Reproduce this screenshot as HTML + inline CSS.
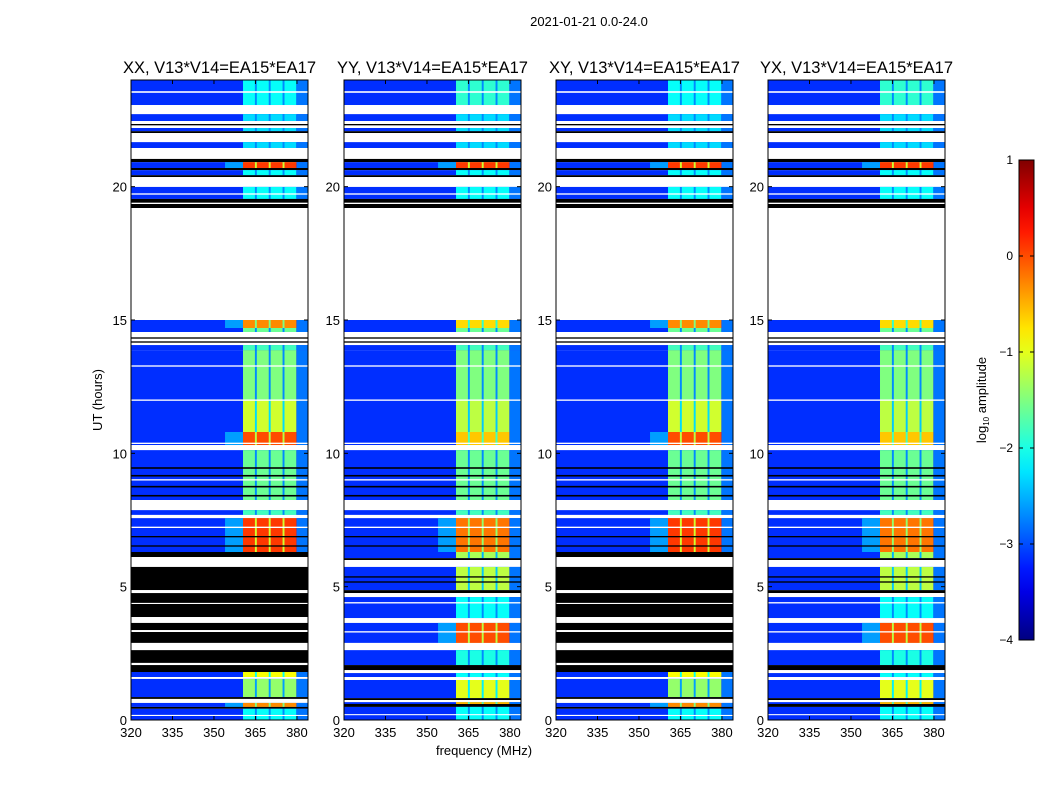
<!DOCTYPE html>
<html><head><meta charset="utf-8"><style>
body{margin:0;background:#fff}
svg text{font-family:"Liberation Sans","DejaVu Sans",sans-serif;fill:#000}
</style></head><body>
<svg id="fig" width="1050" height="800" xmlns="http://www.w3.org/2000/svg">
<rect width="1050" height="800" fill="#fff"/>
<text x="589" y="26" font-size="13" text-anchor="middle">2021-01-21 0.0-24.0</text>
<text transform="translate(102,400) rotate(-90)" font-size="13" text-anchor="middle">UT (hours)</text>
<text x="484" y="755" font-size="13" text-anchor="middle">frequency (MHz)</text>
<defs><linearGradient id="jetg" x1="0" y1="1" x2="0" y2="0"></linearGradient></defs>
</svg>
<script>
// ---- data ----
const panelNames = ["XX, V13*V14=EA15*EA17","YY, V13*V14=EA15*EA17","XY, V13*V14=EA15*EA17","YX, V13*V14=EA15*EA17"];
const panelGroup = ["A","B","A","B"];
const xTicks = [320,335,350,365,380];
const yTicks = [0,5,10,15,20];
const cbTicks = [1,0,-1,-2,-3,-4];
const bgLevel = -3.15;
const rfiCols = [[360.5,364.8],[365.5,369.8],[370.5,374.8],[375.5,379.8]];
// [h0,h1,kind,levelA,levelB]
const upperSegs = [
[23.06,24,'d',-2.1,-1.9],[22.72,23.06,'w'],[22.46,22.72,'d',-2.3,-2.3],[22.2,22.46,'w'],
[22.08,22.2,'d',-2.3,-2.3],[22.01,22.08,'k'],[21.67,22.01,'w'],[21.45,21.67,'d',-2.3,-2.3],
[21.04,21.45,'w'],[20.92,21.04,'k'],[20.7,20.92,'d',0.1,0.1],[20.62,20.7,'k'],
[20.43,20.62,'d',-2.1,-2.1],[20.36,20.43,'k'],[19.99,20.36,'w'],[19.54,19.99,'d',-2.1,-2.1],
[19.2,19.54,'k'],[15.0,19.2,'w'],[14.7,15.0,'d',-0.3,-0.7],[14.55,14.7,'d',-1.6,-1.6],
[14.06,14.55,'w'],[13.87,14.06,'d',-1.8,-1.8],[12.0,13.87,'d',-1.5,-1.5],[10.8,12.0,'d',-1.1,-1.2],
[10.31,10.8,'d',0.0,-0.6],[10.12,10.31,'w'],[8.25,10.12,'d',-1.6,-1.6],[7.87,8.25,'w'],
[7.69,7.87,'d',-1.8,-1.8],[7.57,7.69,'w'],[6.3,7.57,'d',0.1,-0.2],
[23.52,23.58,'w'],[22.3,22.35,'k'],[19.7,19.75,'w'],[19.35,19.4,'w'],[14.3,14.35,'k'],[14.15,14.2,'k'],
[13.25,13.3,'w'],[11.97,12.02,'w'],[10.35,10.4,'w'],[9.42,9.48,'k'],[9.13,9.19,'k'],[8.98,9.03,'w'],
[8.72,8.78,'k'],[8.38,8.44,'k'],[7.2,7.25,'w'],[6.85,6.9,'k'],[6.5,6.55,'k']
];
const lowerA = [
[6.11,6.3,'k'],[5.74,6.11,'w'],[4.87,5.74,'k'],[4.76,4.87,'w'],[4.39,4.76,'k'],[4.35,4.39,'w'],
[3.86,4.35,'k'],[3.64,3.86,'w'],[3.37,3.64,'k'],[3.3,3.37,'w'],[2.89,3.3,'k'],[2.62,2.89,'w'],
[2.14,2.62,'k'],[2.06,2.14,'w'],[1.8,2.06,'k'],[1.61,1.8,'d',-0.9],[1.54,1.61,'w'],
[0.86,1.54,'d',-1.4],[0.79,0.86,'k'],[0.64,0.79,'w'],[0.49,0.64,'d',-0.3],[0.42,0.49,'k'],
[0.19,0.42,'d',-2.1],[0.15,0.19,'w'],[0,0.15,'d',-2.1]
];
const lowerB = [
[6.07,6.3,'d',-1.3],[6.0,6.07,'k'],[5.74,6.0,'w'],[4.87,5.74,'d',-1.2],[5.34,5.39,'k'],[5.15,5.2,'k'],
[4.76,4.87,'k'],[4.61,4.76,'w'],[3.82,4.61,'d',-2.1],[4.37,4.42,'w'],[3.64,3.82,'w'],
[2.89,3.64,'d',0.0],[3.28,3.33,'w'],[2.62,2.89,'w'],[2.06,2.62,'d',-2.0],[1.87,2.06,'k'],
[1.76,1.87,'w'],[1.61,1.76,'d',-2.1],[1.5,1.61,'w'],[0.82,1.5,'d',-1.0],[0.75,0.82,'k'],
[0.67,0.75,'w'],[0.6,0.67,'d',-0.5],[0.49,0.6,'k'],[0,0.49,'d',-2.1],[0.18,0.22,'w']
];
// ---- rendering ----
const NS="http://www.w3.org/2000/svg";
const svg=document.getElementById('fig');
const panelX=[131,344,556,768], PW=177, PT=80, PB=720;
const fMin=320, fMax=384, hMin=0, hMax=24;
function jet(v){
  const t=Math.max(0,Math.min(1,(v+4)/5));
  const cl=x=>Math.max(0,Math.min(1,x));
  const r=cl(Math.min(4*t-1.5,-4*t+4.5)), g=cl(Math.min(4*t-0.5,-4*t+3.5)), b=cl(Math.min(4*t+0.5,-4*t+2.5));
  return `rgb(${Math.round(r*255)},${Math.round(g*255)},${Math.round(b*255)})`;
}
function mk(tag,attrs,parent){const e=document.createElementNS(NS,tag);for(const k in attrs)e.setAttribute(k,attrs[k]);(parent||svg).appendChild(e);return e;}
function yScale(h){return PB-(h-hMin)/(hMax-hMin)*(PB-PT);}
panelX.forEach((x0,pi)=>{
  const xs=f=>x0+(f-fMin)/(fMax-fMin)*PW;
  const g=mk('g',{});
  
  
  const grp=panelGroup[pi];
  const segs=upperSegs.map(s=>[s[0],s[1],s[2],grp==='A'?s[3]:s[4]]).concat(grp==='A'?lowerA:lowerB);
  segs.forEach(s=>{
    const y1=yScale(s[1]), y0=yScale(s[0]), hgt=y0-y1;
    if(s[2]!=='d'){
      const r=mk('rect',{x:x0,y:y1,width:PW,height:hgt,fill:s[2]==='k'?'#000':'#fff'},g);
      
      
      return;
    }
    const lv=s[3];
    const r=mk('rect',{x:x0,y:y1,width:PW,height:hgt,fill:jet(bgLevel)},g);
    
    
    if(lv>-0.4) mk('rect',{x:xs(354),y:y1,width:xs(360.5)-xs(354),height:hgt,fill:jet(-2.6)},g);
    mk('rect',{x:xs(380),y:y1,width:xs(384)-xs(380),height:hgt,fill:jet(-2.8)},g);
    mk('rect',{x:xs(360.5),y:y1,width:xs(379.8)-xs(360.5),height:hgt,fill:jet(Math.max(lv-1.2,-2.7))},g);
    rfiCols.forEach(c=>{
      const cr=mk('rect',{x:xs(c[0]),y:y1,width:xs(c[1])-xs(c[0]),height:hgt,fill:jet(lv)},g);
      
      
    });
  });
  mk('rect',{x:x0,y:PT,width:PW,height:PB-PT,fill:'none',stroke:'#000','stroke-width':1},g);
  const t=mk('text',{x:x0+PW/2,y:73,'font-size':16.5,'text-anchor':'middle'},g);
  t.textContent=panelNames[pi];
  
  
  xTicks.forEach(f=>{
    const x=xs(f);
    mk('line',{x1:x,x2:x,y1:PB,y2:PB-4,stroke:'#000'},g);
    mk('line',{x1:x,x2:x,y1:PT,y2:PT+4,stroke:'#000'},g);
    const l=mk('text',{x:x,y:737,'font-size':13,'text-anchor':'middle'},g);
    l.textContent=f;
    
    
  });
  yTicks.forEach(h=>{
    const y=yScale(h);
    mk('line',{x1:x0,x2:x0+4,y1:y,y2:y,stroke:'#000'},g);
    mk('line',{x1:x0+PW,x2:x0+PW-4,y1:y,y2:y,stroke:'#000'},g);
    const l=mk('text',{x:x0-4,y:y+5,'font-size':13,'text-anchor':'end'},g);
    l.textContent=h;
    
    
  });
});
// colorbar
const grad=document.getElementById('jetg');
for(let i=0;i<=20;i++){const v=-4+5*i/20;mk('stop',{offset:(i/20),'stop-color':jet(v)},grad);}
const CBX=1019,CBW=15,CBT=160,CBB=640;
const cb=mk('rect',{x:CBX,y:CBT,width:CBW,height:CBB-CBT,fill:'url(#jetg)',stroke:'#000'});


cbTicks.forEach(v=>{
  const y=CBB-(v+4)/5*(CBB-CBT);
  mk('line',{x1:CBX,x2:CBX+4,y1:y,y2:y,stroke:'#000'});
  mk('line',{x1:CBX+CBW,x2:CBX+CBW-4,y1:y,y2:y,stroke:'#000'});
  const l=mk('text',{x:1013,y:y+4,'font-size':12,'text-anchor':'end'});
  l.textContent=v<0?'\u2212'+(-v):String(v);
  
  
});
const cl=mk('text',{transform:'translate(986,400) rotate(-90)','font-size':13,'text-anchor':'middle'});
cl.innerHTML='log<tspan font-size="8" dy="3">10</tspan><tspan dy="-3"> amplitude</tspan>';


</script>
</body></html>
